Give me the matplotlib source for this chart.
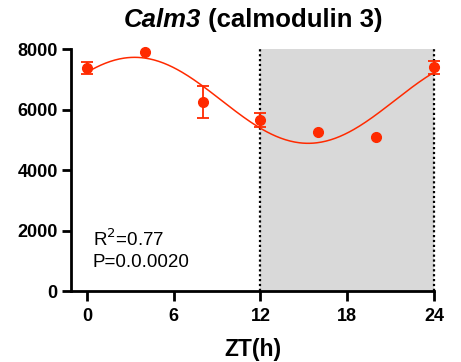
import numpy as np
import matplotlib
matplotlib.use("Agg")
import matplotlib.pyplot as plt

plt.rcParams['font.family'] = ['Liberation Sans', 'DejaVu Sans']

# Mean expression per time point, with SEM
zt = [0, 4, 8, 12, 16, 20, 24]
expr = [7372, 7911, 6248, 5653, 5267, 5101, 7395]
sem = [190, 0, 520, 220, 0, 0, 210]

# Cosinor fit (24 h period)
mesor = 6304
amplitude = 1421
acrophase = 3.3
period = 24

x_ticks = [0, 6, 12, 18, 24]
y_ticks = [0, 2000, 4000, 6000, 8000]

red = '#ff2a00'

fig = plt.figure(figsize=(4.61, 3.62), dpi=100)
ax = fig.add_axes([0.154, 0.196, 0.9414 - 0.154, 0.8646 - 0.196])

ax.set_xlim(-1.1, 24)
ax.set_ylim(0, 8000)

# dark phase
ax.axvspan(12, 24, ymin=0, ymax=1, color='#d9d9d9', lw=0, zorder=0)
for xv in (12, 24):
    ax.plot([xv, xv], [0, 8000], color='black', ls=(0, (1, 1.2)), lw=1.6,
            zorder=1, clip_on=False)

t = np.linspace(0, 24, 300)
fit = mesor + amplitude * np.cos(2 * np.pi * (t - acrophase) / period)
ax.plot(t, fit, color=red, lw=1.1, zorder=2)

yerr = np.array(sem, dtype=float)
ax.errorbar(zt, expr, yerr=np.where(yerr > 0, yerr, np.nan), fmt='none',
            ecolor=red, elinewidth=1.3, capsize=4.5, capthick=1.3,
            zorder=3, clip_on=False)
ax.plot(zt, expr, 'o', color=red, ms=7, zorder=4, clip_on=False)

for s in ('top', 'right'):
    ax.spines[s].set_visible(False)
for s in ('left', 'bottom'):
    ax.spines[s].set_linewidth(2)

ax.set_xticks(x_ticks)
ax.set_yticks(y_ticks)
ax.tick_params(axis='y', width=2, length=6.5, labelsize=13, pad=3)
ax.tick_params(axis='x', width=2, length=7.5, labelsize=13, pad=5)
for lab in ax.get_xticklabels() + ax.get_yticklabels():
    lab.set_fontweight('bold')

ax.set_xlabel('ZT(h)', fontsize=16.5, fontweight='bold', labelpad=9)

ax.text(0.06, 0.215, 'R$^2$=0.77', transform=ax.transAxes,
        fontsize=13.5, va='center', ha='left')
ax.text(0.06, 0.116, 'P=0.0.0020', transform=ax.transAxes,
        fontsize=13.5, va='center', ha='left')

# Title: italic gene symbol followed by the gene name
title_y = 0.945
t1 = fig.text(0, title_y, 'Calm3', fontsize=18.5, ha='left', va='center',
              fontweight='bold', style='italic')
t2 = fig.text(0, title_y, ' (calmodulin 3)', fontsize=18.5, ha='left',
              va='center', fontweight='bold')
fig.canvas.draw()
r = fig.canvas.get_renderer()
w1 = t1.get_window_extent(r).width
w2 = t2.get_window_extent(r).width
center_px = 253
x0 = (center_px - (w1 + w2) / 2) / fig.bbox.width
t1.set_x(x0)
t2.set_x(x0 + w1 / fig.bbox.width)

fig.savefig('out.png', dpi=100)
